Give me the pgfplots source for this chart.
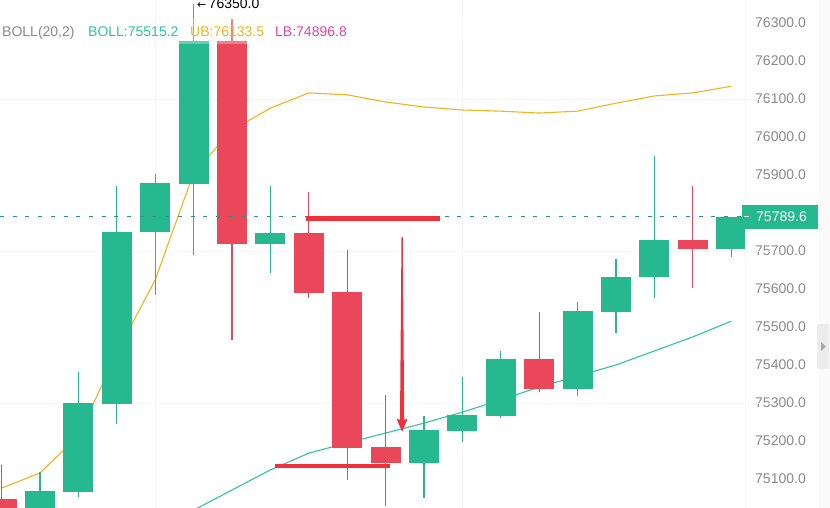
\documentclass[border=0pt]{standalone}
\usepackage{pgfplots}
\pgfplotsset{compat=1.18}
\usepackage{pgfplotstable}
\usepackage{fontspec}
\setmainfont{Liberation Sans}
\newfontfamily\symfont{DejaVu Sans}

\definecolor{cgreen}{RGB}{38,185,143}
\definecolor{cred}{RGB}{234,72,90}
\definecolor{annred}{RGB}{238,50,60}
\definecolor{ubcol}{RGB}{240,180,30}
\definecolor{midcol}{RGB}{48,196,160}
\definecolor{lbcol}{RGB}{224,68,164}
\definecolor{tickgray}{RGB}{138,138,138}
\definecolor{dashcol}{RGB}{40,150,130}

% candles: index, open, high, low, close
\pgfplotstableread{
i  o       h       l       c
1  75000   75118   74990   75068
2  75066   75382   75053   75300
3  75297   75871   75245   75750
4  75750   75903   75584   75879
5  75876   76350   75689   76253
7  75718   75871   75642   75747
11 75142   75266   75050   75229
12 75226   75368   75197   75268
13 75266   75437   75261   75416
15 75337   75566   75318   75542
16 75539   75679   75484   75632
17 75632   75950   75576   75729
19 75705   75789.6 75684   75789.6
}\greens

\pgfplotstableread{
i  o       h       l       c
0  75047   75137   74980   75000
6  76253   76310   75466   75718
8  75747   75855   75576   75589
9  75592   75703   75097   75182
10 75184   75321   75029   75142
14 75416   75539   75329   75337
18 75729   75871   75603   75705
}\reds

% BOLL upper band
\pgfplotstableread{
i  v
0  75076
1  75116
2  75213
3  75432
4  75624
5  75905
6  76018
7  76076
8  76116
9  76111
10 76092
11 76079
12 76071
13 76068
14 76063
15 76068
16 76089
17 76108
18 76116
19 76133.5
}\upper

% BOLL middle band
\pgfplotstableread{
i  v
5  75018
6  75071
7  75124
8  75168
9  75195
10 75221
11 75247
12 75276
13 75308
14 75342
15 75371
16 75400
17 75437
18 75474
19 75515.2
}\middle

\begin{document}
\begin{tikzpicture}
\useasboundingbox (0,0) rectangle (830bp,508bp);
\fill[white] (0,0) rectangle (830bp,508bp);
\begin{axis}[
  at={(0,0)}, anchor=south west,
  scale only axis, width=745bp, height=508bp,
  xmin=-0.0417, xmax=19.359,
  ymin=75023.7, ymax=76360.5,
  clip mode=individual,
  axis line style={draw=none},
  major tick length=0pt,
  xtick=\empty,
  ytick={75100,75200,75300,75400,75500,75600,75700,75900,76000,76100,76200,76300},
  scaled y ticks=false,
  yticklabel pos=right,
  yticklabel style={anchor=east, inner sep=0pt, xshift=61bp, text=tickgray,
    font=\fontsize{14bp}{16bp}\selectfont},
  /pgf/number format/assume math mode=true,
  yticklabel={\pgfmathprintnumber[fixed, fixed zerofill, precision=1, 1000 sep={}]{\tick}},
]
% faint grid
\draw[gray!8] (axis cs:4,75000) -- (axis cs:4,76400);
\draw[gray!8] (axis cs:12,75000) -- (axis cs:12,76400);
\draw[gray!8] (axis cs:-1,76100) -- (axis cs:20,76100);
\draw[gray!6] (axis cs:-1,75700) -- (axis cs:20,75700);
\draw[gray!6] (axis cs:-1,75300) -- (axis cs:20,75300);

% bands
\addplot[ubcol, line width=1.1bp, mark=none] table[x=i, y=v] {\upper};
\addplot[midcol, line width=1.1bp, mark=none] table[x=i, y=v] {\middle};

% wicks
\addplot[draw=none, mark=none, error bars/.cd, y dir=plus, y explicit, error mark=none,
  error bar style={draw=cgreen, line width=1.1bp}]
  table[x=i, y=l, y error expr=\thisrow{h}-\thisrow{l}] {\greens};
\addplot[draw=none, mark=none, error bars/.cd, y dir=plus, y explicit, error mark=none,
  error bar style={draw=cred, line width=1.1bp}]
  table[x=i, y=l, y error expr=\thisrow{h}-\thisrow{l}] {\reds};
% bodies
\addplot[draw=none, mark=none, error bars/.cd, y dir=plus, y explicit, error mark=none,
  error bar style={draw=cgreen, line width=30bp}]
  table[x=i, y=o, y error expr=\thisrow{c}-\thisrow{o}] {\greens};
\addplot[draw=none, mark=none, error bars/.cd, y dir=plus, y explicit, error mark=none,
  error bar style={draw=cred, line width=30bp}]
  table[x=i, y=c, y error expr=\thisrow{o}-\thisrow{c}] {\reds};

% last price dashed line
\draw[dashcol, line width=0.9bp, dash pattern=on 4bp off 8.7bp]
  (axis cs:-0.0417,75789.6) -- (axis cs:19.36,75789.6);

% light band behind legend
\fill[white, opacity=0.3] (rel axis cs:0,0.913) rectangle (rel axis cs:1,0.965);

% user drawings
\draw[annred, line width=5bp] (axis cs:7.93,75786) -- (axis cs:11.42,75786);
\draw[annred, line width=4.5bp] (axis cs:7.12,75134) -- (axis cs:10.11,75134);
\fill[annred] (axis cs:10.414,75737) -- (axis cs:10.446,75737)
  -- (axis cs:10.485,75256) -- (axis cs:10.570,75258)
  -- (axis cs:10.43,75224)
  -- (axis cs:10.290,75258) -- (axis cs:10.375,75256) -- cycle;

% legend
\node[anchor=base west, inner sep=0pt, text=tickgray, font=\fontsize{14bp}{16bp}\selectfont]
  at (rel axis cs:0.0027,0.9272) {BOLL(20,2)};
\node[anchor=base west, inner sep=0pt, text=midcol, font=\fontsize{14bp}{16bp}\selectfont]
  at (rel axis cs:0.1181,0.9272) {BOLL:75515.2};
\node[anchor=base west, inner sep=0pt, text=ubcol, font=\fontsize{14bp}{16bp}\selectfont]
  at (rel axis cs:0.255,0.9272) {UB:76133.5};
\node[anchor=base west, inner sep=0pt, text=lbcol, font=\fontsize{14bp}{16bp}\selectfont]
  at (rel axis cs:0.3691,0.9272) {LB:74896.8};
\node[anchor=base west, inner sep=0pt, text=black, font=\fontsize{14bp}{16bp}\selectfont]
  at (rel axis cs:0.2644,0.984) {{\symfont\fontsize{11bp}{12bp}\selectfont ←}\,76350.0};

\coordinate (pl) at (axis cs:19.36,75789.6);
\end{axis}

% right panel details
\fill[gray!4] (819bp,0) rectangle (830bp,508bp);
\draw[gray!6, line width=0.6bp] (745bp,0) -- (745bp,508bp);
\fill[cgreen] ([yshift=-12bp]pl -| 742bp,0) rectangle ([yshift=12bp]pl -| 818bp,0);
\draw[white, line width=1bp] (pl -| 744bp,0) -- (pl -| 749bp,0);
\node[anchor=east, inner sep=0pt, text=white, font=\fontsize{14bp}{16bp}\selectfont]
  at (pl -| 807bp,0) {75789.6};
\fill[gray!15, rounded corners=1.5bp] (817bp,139bp) rectangle (829bp,184bp);
\fill[gray!70] (821bp,157bp) -- (825.5bp,161.5bp) -- (821bp,166bp) -- cycle;
\end{tikzpicture}
\end{document}
